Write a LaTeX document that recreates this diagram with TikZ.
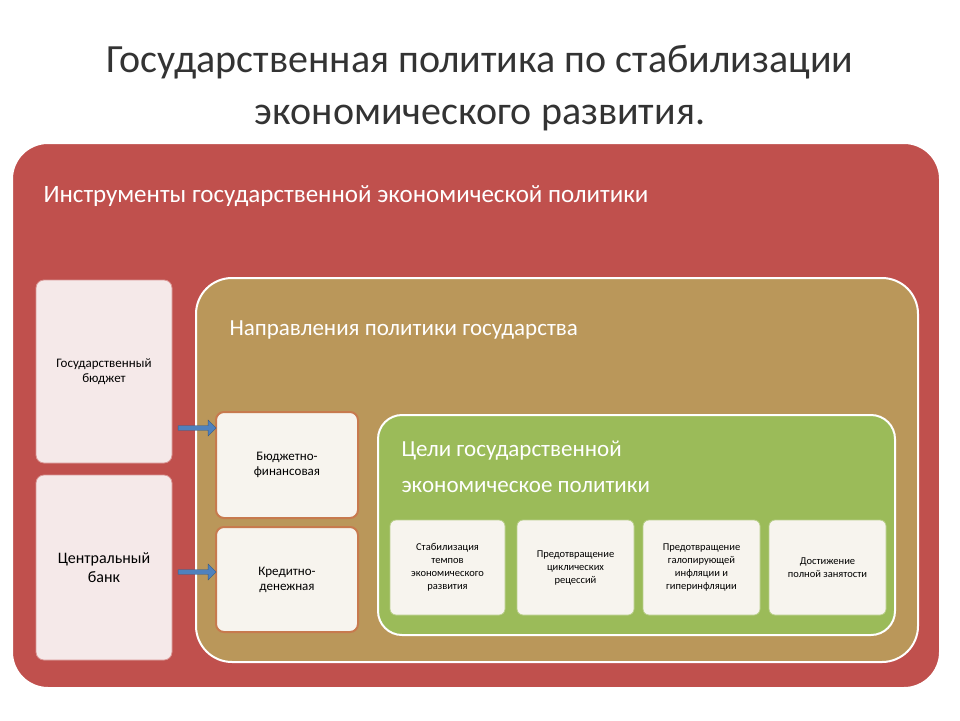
\documentclass[tikz,border=0pt]{standalone}
\usepackage{fontspec}
\setmainfont{Carlito}
\usetikzlibrary{shapes.arrows}
\definecolor{redbg}{HTML}{C0504D}
\definecolor{tanbg}{HTML}{BA975A}
\definecolor{greenbg}{HTML}{9BBB59}
\definecolor{pinkbox}{HTML}{F5E9E9}
\definecolor{cream}{HTML}{F7F4EE}
\definecolor{obrd}{HTML}{C77A4E}
\definecolor{arrowblue}{HTML}{4F81BD}
\tikzset{
  panel/.style={draw=white,line width=2pt,rounded corners=36pt},
  tool/.style={draw=redbg!60,fill=pinkbox,rounded corners=8pt,align=center,font=\fontsize{13}{15}\selectfont,line width=0.8pt},
  dir/.style={draw=obrd,fill=cream,rounded corners=8pt,align=center,font=\fontsize{13}{15}\selectfont,line width=2pt},
  goal/.style={draw=greenbg!70!white,fill=cream,rounded corners=6pt,align=center,font=\fontsize{10.5}{13}\selectfont,line width=0.8pt},
  barr/.style={single arrow,draw=arrowblue!70!black,fill=arrowblue,minimum height=38pt,minimum width=16pt,single arrow head extend=3pt,inner sep=1pt},
  head/.style={anchor=west,text=white}
}
\begin{document}
\begin{tikzpicture}[x=1pt,y=-1pt]
\useasboundingbox (0,0) rectangle (960,720);
\fill[white] (0,0) rectangle (960,720);
\node (title) at (480,88) [align=center,font=\fontsize{40}{52}\selectfont,text=black!80] {Государственная политика по стабилизации\\экономического развития.};
\draw[panel,fill=redbg] (12,143) rectangle (940,688);
\node (h1) [head,font=\fontsize{25}{30}\selectfont] at (40,196) {Инструменты государственной экономической политики};
\node (b1) [tool,minimum width=136pt,minimum height=183pt] at (104,371.5) {Государственный\\бюджет};
\node (b2) [tool,minimum width=136pt,minimum height=185pt,font=\fontsize{16}{19}\selectfont] at (104,567.5) {Центральный\\банк};
\draw[panel,fill=tanbg] (196,278) rectangle (918,662);
\node (h2) [head,font=\fontsize{23}{28}\selectfont] at (226,330) {Направления политики государства};
\node (d1) [dir,minimum width=142pt,minimum height=106pt] at (287,465) {Бюджетно-\\финансовая};
\node (d2) [dir,minimum width=142pt,minimum height=105pt] at (287,579.5) {Кредитно-\\денежная};
\node (a1) [barr] at (196,428) {};
\node (a2) [barr] at (196,572) {};
\draw[panel,fill=greenbg,rounded corners=24pt] (378,415) rectangle (895,635);
\node (h3) [anchor=north west,text=white,align=left,font=\fontsize{23}{36}\selectfont] at (398,437) {Цели государственной\\экономическое политики};
\node (g1) [goal,minimum width=115pt,minimum height=95pt] at (447.5,567.5) {Стабилизация\\темпов\\экономического\\развития};
\node (g2) [goal,minimum width=117pt,minimum height=95pt] at (575.5,567.5) {Предотвращение\\циклических\\рецессий};
\node (g3) [goal,minimum width=117pt,minimum height=95pt] at (701.5,567.5) {Предотвращение\\галопирующей\\инфляции и\\гиперинфляции};
\node (g4) [goal,minimum width=117pt,minimum height=95pt] at (827.5,567.5) {Достижение\\полной занятости};
\end{tikzpicture}
\end{document}
